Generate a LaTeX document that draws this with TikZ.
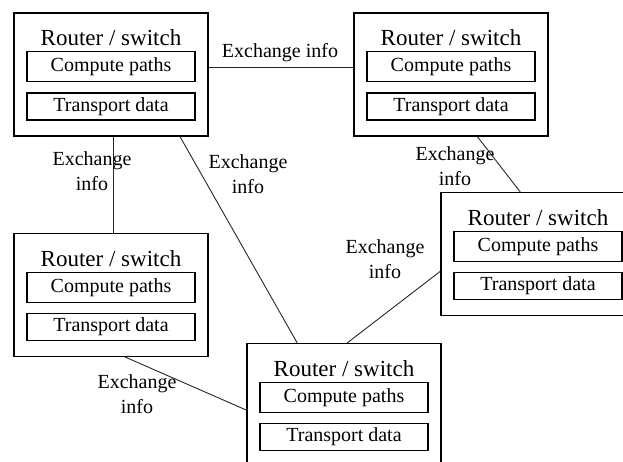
\documentclass[tikz,border=0pt]{standalone}
\usepackage{fontspec}
\setmainfont{Liberation Serif}
\usetikzlibrary{positioning}

\begin{document}
\begin{tikzpicture}[x=1pt, y=1pt,
  node distance=10pt,
  router/.style={draw, line width=1.2pt, minimum width=194pt,
                 minimum height=123pt, inner sep=0pt},
  title/.style={inner sep=0pt, font=\fontsize{23}{27}\selectfont},
  func/.style={draw, line width=1.1pt, minimum width=168pt, inner sep=0pt,
               font=\fontsize{20}{24}\selectfont},
  paths/.style={func, minimum height=30pt},
  data/.style={func, minimum height=27pt},
  lbl/.style={align=center, inner sep=0pt, font=\fontsize{20}{25}\selectfont},
  link/.style={line width=0.9pt, draw=black!85}]
  \useasboundingbox (0,0) rectangle (623,-462);
  \clip (0,0) rectangle (623,-462);
  % routers
  \node[router] (A) at (111,-74.5) {};
  \node[title, below=17pt of A.north] (At) {Router / switch};
  \node[paths, below=39pt of A.north] (Ac) {Compute paths};
  \node[data, below=of Ac] (Ad) {Transport data};
  \node[router] (B) at (451,-74.5) {};
  \node[title, below=17pt of B.north] (Bt) {Router / switch};
  \node[paths, below=39pt of B.north] (Bc) {Compute paths};
  \node[data, below=of Bc] (Bd) {Transport data};
  \node[router] (C) at (111,-295) {};
  \node[title, below=17pt of C.north] (Ct) {Router / switch};
  \node[paths, below=39pt of C.north] (Cc) {Compute paths};
  \node[data, below=of Cc] (Cd) {Transport data};
  \node[router] (D) at (538,-254) {};
  \node[title, below=17pt of D.north] (Dt) {Router / switch};
  \node[paths, below=39pt of D.north] (Dc) {Compute paths};
  \node[data, below=of Dc] (Dd) {Transport data};
  \node[router] (E) at (344,-405) {};
  \node[title, below=17pt of E.north] (Et) {Router / switch};
  \node[paths, below=39pt of E.north] (Ec) {Compute paths};
  \node[data, below=of Ec] (Ed) {Transport data};
  % links
  \draw[link] (A.4) -- (B.176);
  \draw[link] (A.-88) -- (C.88);
  \draw[link] (A.-42) -- (E.127);
  \draw[link] (B.-67) -- (D.106);
  \draw[link] (D.190) -- (E.87);
  \draw[link] (C.-77) -- (E.183);
  % labels
  \node[lbl] (lAB) at (280,-53) {Exchange info};
  \node[lbl] (lAC) at (92,-171) {Exchange\\info};
  \node[lbl] (lAE) at (248,-174) {Exchange\\info};
  \node[lbl] (lBD) at (455,-166) {Exchange\\info};
  \node[lbl] (lDE) at (385,-259) {Exchange\\info};
  \node[lbl] (lCE) at (137,-394) {Exchange\\info};
\end{tikzpicture}
\end{document}
